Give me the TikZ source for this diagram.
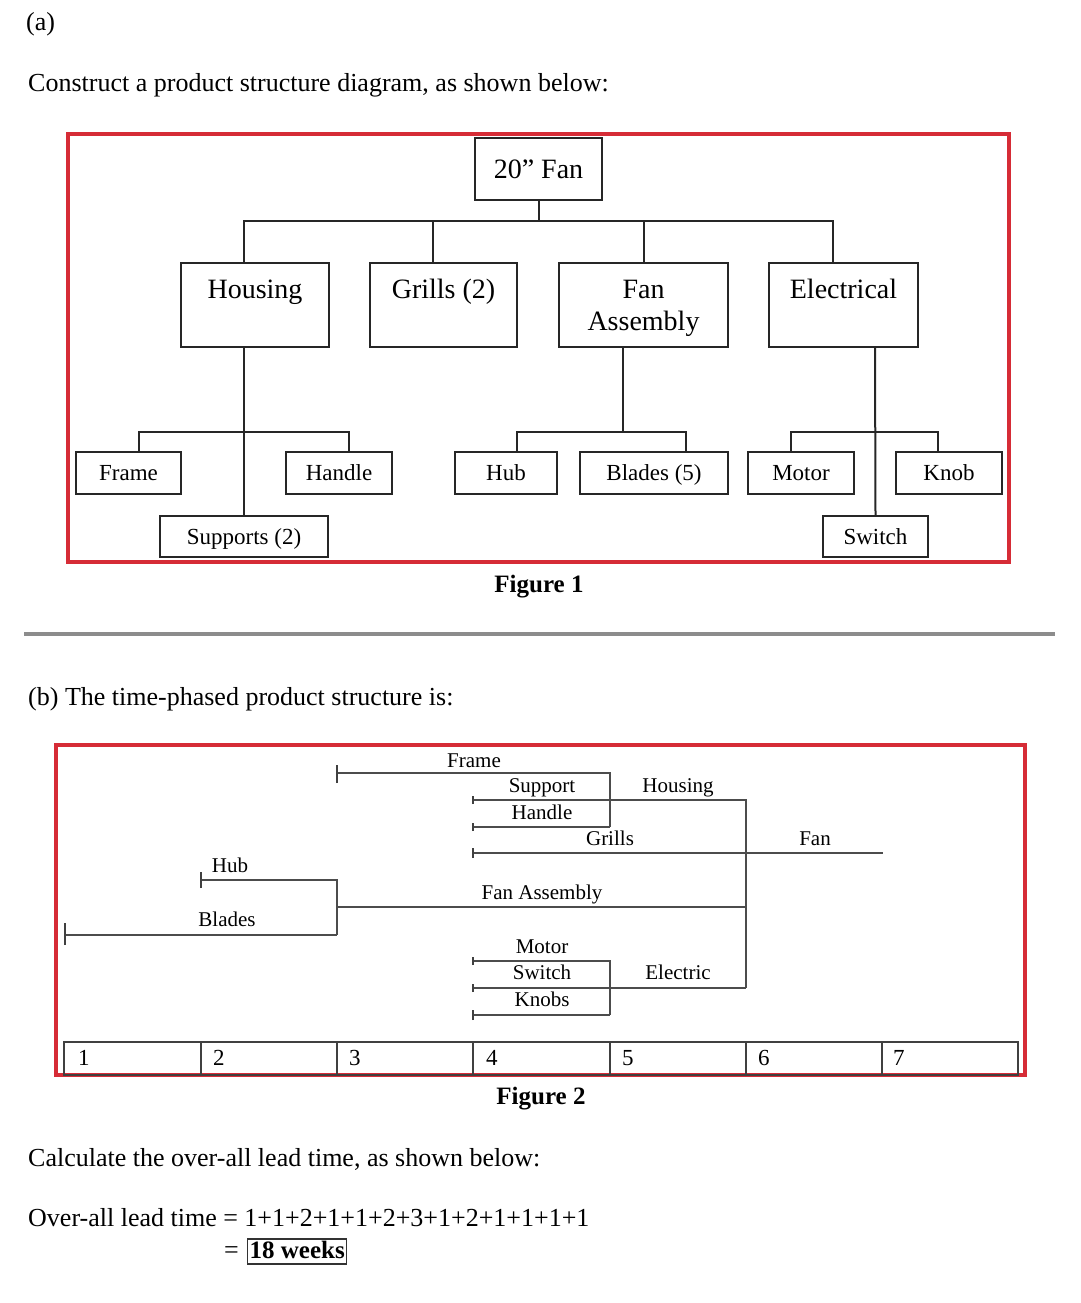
\documentclass[tikz,border=0pt]{standalone}
\usepackage{fontspec}
\setmainfont{Liberation Serif}
\definecolor{frred}{RGB}{214,44,54}
\definecolor{sepgray}{RGB}{140,140,140}
\begin{document}
\begin{tikzpicture}[x=1pt,y=-1pt,
  box/.style={draw=black!85, line width=2pt, inner sep=0pt, align=center},
  tA/.style={font=\fontsize{28}{32}\selectfont},
  tB/.style={font=\fontsize{23}{27}\selectfont, text height=17pt, text depth=2pt},
  conn/.style={draw=black!85, line width=2pt},
  redframe/.style={draw=frred, line width=3.5pt},
  para/.style={font=\fontsize{26}{30}\selectfont, anchor=base west, inner sep=0pt},
  figcap/.style={font=\fontsize{25}{30}\selectfont\bfseries, anchor=base, inner sep=0pt},
  lab/.style={font=\fontsize{21}{24}\selectfont, anchor=base, inner sep=0pt},
  num/.style={font=\fontsize{23}{26}\selectfont, anchor=base west, inner sep=0pt},
  tl/.style={draw=black!70, line width=1.7pt},
  tickmark/.style={draw=black!75, line width=1.5pt},
  gridline/.style={draw=black!75, line width=1.7pt}
]
\useasboundingbox (0,0) rectangle (1080,1303);

% ---------------- texts ----------------
\node[para] (ta) at (26,31) {(a)};
\node[para] (tconstruct) at (28,92) {Construct a product structure diagram, as shown below:};

% ---------------- Figure 1 ----------------
\draw[redframe] (68,134) rectangle (1009,562);

\node[box, tA, minimum width=127, minimum height=62] (fan20) at (538.5,169) {20” Fan};
\node[box, tA, minimum width=148, minimum height=84] (housing) at (255,305) {Housing\\\mbox{}};
\node[box, tA, minimum width=147, minimum height=84] (grills) at (443.5,305) {Grills (2)\\\mbox{}};
\node[box, tA, minimum width=169, minimum height=84] (fanasm) at (643.5,305) {Fan\\\smash{Assembly}};
\node[box, tA, minimum width=149, minimum height=84] (elec) at (843.5,305) {Electrical\\\mbox{}};

\node[box, tB, minimum width=105, minimum height=42] (frame) at (128.5,473) {Frame};
\node[box, tB, minimum width=106, minimum height=42] (handle) at (339,473) {Handle};
\node[box, tB, minimum width=168, minimum height=41] (supports) at (244,536.5) {Supports (2)};
\node[box, tB, minimum width=102, minimum height=42] (hub) at (506,473) {Hub};
\node[box, tB, minimum width=148, minimum height=42] (blades) at (654,473) {Blades (5)};
\node[box, tB, minimum width=106, minimum height=42] (motor) at (801,473) {Motor};
\node[box, tB, minimum width=106, minimum height=42] (knob) at (949,473) {Knob};
\node[box, tB, minimum width=105, minimum height=41] (switch) at (875.5,536.5) {Switch};

\coordinate (bus1) at (0,221);
\coordinate (bus2) at (0,432);
% level 0 -> 1
\draw[conn] (fan20.south) -- (fan20.south |- bus1);
\draw[conn] ([xshift=-11pt]housing.north) |- ([xshift=-10.5pt]elec.north |- bus1) -- ([xshift=-10.5pt]elec.north);
\draw[conn] ([xshift=-10.5pt]grills.north) -- ([xshift=-10.5pt]grills.north |- bus1);
\draw[conn] (fanasm.north) -- (fanasm.north |- bus1);
% housing
\draw[conn] ([xshift=-11pt]housing.south) -- (supports.north);
\draw[conn] ([xshift=10.5pt]frame.north) |- ([xshift=10pt]handle.north |- bus2) -- ([xshift=10pt]handle.north);
% fan assembly
\draw[conn] ([xshift=-21pt]fanasm.south) -- ([xshift=-21pt]fanasm.south |- bus2);
\draw[conn] ([xshift=11pt]hub.north) |- ([xshift=32pt]blades.north |- bus2) -- ([xshift=32pt]blades.north);
% electrical
\draw[conn] ([xshift=31.5pt]elec.south) -- (switch.north);
\draw[conn] ([xshift=-10pt]motor.north) |- ([xshift=-11pt]knob.north |- bus2) -- ([xshift=-11pt]knob.north);

\node[figcap] (fig1) at (539,592) {Figure 1};

% separator
\draw[draw=sepgray, line width=4pt] (24,634) -- (1055,634);

\node[para] (tb) at (28,705) {(b) The time-phased product structure is:};

% ---------------- Figure 2 ----------------
\draw[redframe] (56,745) rectangle (1025,1075);

% week axis
\coordinate (g0) at (64,1042);
\coordinate (g7) at (1018,1075);
\draw[gridline] (g0) rectangle (g7);
\foreach \xx in {201,337,473,610,746,882}{
  \draw[gridline] (\xx,1042) -- (\xx,1075);
}
\node[num] (n1) at (78,1065) {1};
\node[num] (n2) at (213,1065) {2};
\node[num] (n3) at (349,1065) {3};
\node[num] (n4) at (486,1065) {4};
\node[num] (n5) at (622,1065) {5};
\node[num] (n6) at (758,1065) {6};
\node[num] (n7) at (893,1065) {7};

% coordinates of the time-phased lines
\coordinate (frS) at (337,773);  \coordinate (frE) at (610,773);
\coordinate (haS) at (473,827);  \coordinate (haE) at (610,827);
\coordinate (suS) at (473,800);  \coordinate (hoE) at (746,800);
\coordinate (grS) at (473,853);  \coordinate (faE) at (883,853);
\coordinate (hbS) at (201,880);  \coordinate (hbE) at (337,880);
\coordinate (blS) at (65,935);   \coordinate (blE) at (337,935);
\coordinate (faS) at (337,907);  \coordinate (fasE) at (746,907);
\coordinate (moS) at (473,961);  \coordinate (moE) at (610,961);
\coordinate (swS) at (473,988);  \coordinate (elE) at (746,988);
\coordinate (knS) at (473,1015); \coordinate (knE) at (610,1015);

\draw[tl] (frS) -- (frE) -- (haE);
\draw[tl] (haS) -- (haE);
\draw[tl] (suS) -- (hoE) -- (elE);
\draw[tl] (grS) -- (faE);
\draw[tl] (hbS) -- (hbE) -- (blE);
\draw[tl] (blS) -- (blE);
\draw[tl] (faS) -- (fasE);
\draw[tl] (moS) -- (moE) -- (knE);
\draw[tl] (swS) -- (elE);
\draw[tl] (knS) -- (knE);

% ticks
\draw[tickmark] ([yshift=-10pt]frS) -- ([yshift=8pt]frS);
\draw[tickmark] ([yshift=-4pt]suS) -- ([yshift=4pt]suS);
\draw[tickmark] ([yshift=-4pt]haS) -- ([yshift=4pt]haS);
\draw[tickmark] ([yshift=-5pt]grS) -- ([yshift=5pt]grS);
\draw[tickmark] ([yshift=-8pt]hbS) -- ([yshift=8pt]hbS);
\draw[tickmark] ([yshift=-10pt]blS) -- ([yshift=12pt]blS);
\draw[tickmark] ([yshift=-4pt]moS) -- ([yshift=4pt]moS);
\draw[tickmark] ([yshift=-4pt]swS) -- ([yshift=4pt]swS);
\draw[tickmark] ([yshift=-5pt]knS) -- ([yshift=5pt]knS);

% labels
\node[lab] (lframe) at (474,767) {Frame};
\node[lab] (lsupport) at (542,792) {Support};
\node[lab] (lhandle) at (542,819) {Handle};
\node[lab] (lhousing) at (678,792) {Housing};
\node[lab] (lgrills) at (610,845) {Grills};
\node[lab] (lfan) at (815,845) {Fan};
\node[lab] (lhub) at (230,872) {Hub};
\node[lab] (lfanasm) at (542,899) {Fan Assembly};
\node[lab] (lblades) at (227,926) {Blades};
\node[lab] (lmotor) at (542,953) {Motor};
\node[lab] (lswitch) at (542,979) {Switch};
\node[lab] (lelectric) at (678,979) {Electric};
\node[lab] (lknobs) at (542,1006) {Knobs};

\node[figcap] (fig2) at (541,1104) {Figure 2};

% ---------------- lead time ----------------
\node[para] (tcalc) at (28,1166) {Calculate the over-all lead time, as shown below:};
\node[para] (tover) at (28,1226) {Over-all lead time = 1+1+2+1+1+2+3+1+2+1+1+1+1};
\node[para] (teq) at (224,1258) {=};
\node[draw=black!80, line width=1.2pt, anchor=base west, inner xsep=2pt, inner ysep=0pt,
      text height=19pt, text depth=6pt, font=\fontsize{25}{30}\selectfont\bfseries] (tweeks) at (247,1258) {18 weeks};
\end{tikzpicture}
\end{document}
